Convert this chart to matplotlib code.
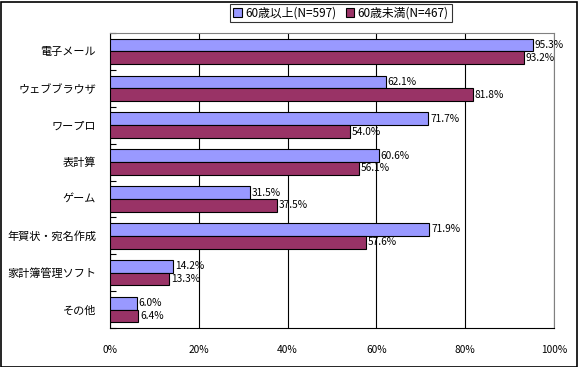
import matplotlib
matplotlib.use("Agg")
import matplotlib.pyplot as plt
from matplotlib.patches import Rectangle
import numpy as np

plt.rcParams['font.family'] = ['Noto Sans CJK JP', 'DejaVu Sans']

categories = ["電子メール", "ウェブブラウザ", "ワープロ", "表計算", "ゲーム", "年賀状・宛名作成", "家計簿管理ソフト", "その他"]
over60 = [95.3, 62.1, 71.7, 60.6, 31.5, 71.9, 14.2, 6.0]
under60 = [93.2, 81.8, 54.0, 56.1, 37.5, 57.6, 13.3, 6.4]
series_names = ["60歳以上(N=597)", "60歳未満(N=467)"]
xticks = [0, 20, 40, 60, 80, 100]

fig = plt.figure(figsize=(5.78, 3.67), dpi=100)
ax = fig.add_axes([110/578, 1-328/367, 444/578, 295/367])

y = np.arange(len(categories))
h = 0.345
b1 = ax.barh(y - h/2, over60, height=h, color="#9999FF", edgecolor="black", linewidth=0.8, label=series_names[0], zorder=3)
b2 = ax.barh(y + h/2, under60, height=h, color="#993366", edgecolor="black", linewidth=0.8, label=series_names[1], zorder=3)

for yy, v in zip(y - h/2, over60):
    ax.text(v + 0.4, yy, f"{v:.1f}%", va="center", ha="left", fontsize=7.3, zorder=4)
for yy, v in zip(y + h/2, under60):
    ax.text(v + 0.4, yy, f"{v:.1f}%", va="center", ha="left", fontsize=7.3, zorder=4)

ax.set_xlim(0, 100)
ax.set_ylim(len(categories) - 0.5, -0.5)
ax.set_xticks(xticks)
ax.set_xticklabels([f"{t}%" for t in xticks], fontsize=7.3)
ax.tick_params(axis='x', length=0, pad=12)
ax.set_yticks(y)
ax.set_yticklabels(categories, fontsize=8.0)
ax.tick_params(axis='y', which='major', length=0, pad=10)
ax.set_yticks(np.arange(-0.5, len(categories), 1), minor=True)
ax.tick_params(axis='y', which='minor', direction='in', length=4, width=0.8)

ax.grid(axis='x', color='black', linewidth=0.8, zorder=0)
for s in ['top', 'right']:
    ax.spines[s].set_color('#808080')
for s in ['left', 'bottom']:
    ax.spines[s].set_color('black')
for s in ax.spines.values():
    s.set_linewidth(0.8)

leg = fig.legend(handles=[b1, b2], labels=series_names, loc='center',
                 bbox_to_anchor=(341/578, 1-13/367), ncol=2, fontsize=8.5,
                 frameon=True, fancybox=False, edgecolor='black', handlelength=0.7,
                 handleheight=0.7, handletextpad=0.3, columnspacing=0.8, borderpad=0.25)
leg.get_frame().set_linewidth(0.8)

fig.patches.append(Rectangle((0.5/578, 0.5/367), 576/578, 365/367, transform=fig.transFigure,
                             fill=False, edgecolor='black', linewidth=1.2))

fig.savefig("out.png", dpi=100)
